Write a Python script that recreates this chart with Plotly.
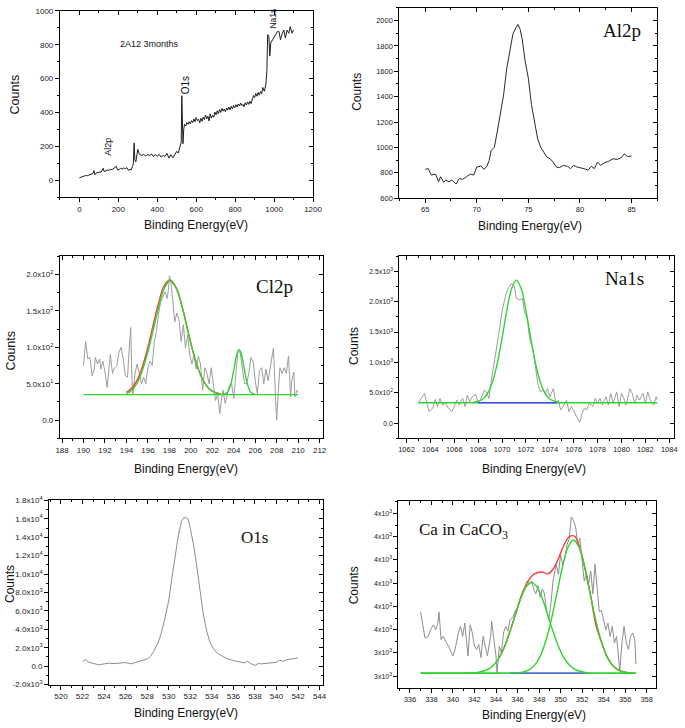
import plotly.graph_objects as go

# ---------------- DATA ----------------
# Survey spectrum (panel 1)
survey_x = [0, 8, 16, 24, 32, 40, 48, 56, 64, 70,
            75, 80, 88, 96, 104, 112, 118, 122, 128, 136,
            144, 152, 160, 168, 176, 184, 190, 196, 204, 212,
            220, 228, 236, 244, 252, 260, 266, 272, 277, 281,
            285, 290, 295, 300, 306, 312, 320, 330, 340, 350,
            360, 370, 380, 390, 400, 410, 420, 430, 440, 450,
            460, 470, 480, 490, 500, 508, 515, 520, 523, 526,
            529, 532, 536, 540, 546, 552, 558, 564, 570, 576,
            582, 588, 594, 600, 606, 612, 618, 624, 630, 636,
            642, 648, 654, 660, 666, 672, 678, 684, 690, 696,
            702, 708, 714, 720, 726, 732, 738, 744, 750, 756,
            762, 768, 774, 780, 786, 792, 798, 804, 810, 816,
            822, 828, 834, 840, 846, 852, 858, 864, 870, 876,
            882, 888, 894, 900, 906, 912, 918, 924, 930, 936,
            942, 950, 958, 963, 967, 973, 978, 983, 992, 1000,
            1008, 1017, 1025, 1033, 1042, 1050, 1058, 1067, 1075, 1083,
            1092, 1100]
survey_y = [14, 18, 22, 25, 27, 26, 30, 31, 34, 40,
            56, 32, 44, 46, 50, 48, 60, 70, 50, 56,
            60, 58, 64, 62, 68, 74, 82, 60, 62, 70,
            66, 72, 68, 74, 58, 64, 60, 80, 96, 220,
            120, 108, 150, 182, 160, 150, 146, 152, 144, 150,
            146, 154, 140, 150, 142, 152, 136, 146, 140, 158,
            130, 150, 132, 156, 170, 160, 190, 218, 225, 498,
            330, 215, 300, 330, 320, 340, 330, 346, 332, 352,
            340, 362, 345, 370, 352, 360, 338, 365, 348, 372,
            358, 385, 362, 378, 350, 392, 366, 384, 372, 402,
            386, 410, 392, 418, 400, 424, 408, 420, 404, 426,
            414, 432, 416, 436, 420, 442, 428, 446, 432, 450,
            438, 456, 440, 448, 434, 458, 444, 462, 448, 466,
            452, 472, 500, 488, 512, 496, 518, 502, 524, 510,
            548, 525, 568, 646, 860, 850, 733, 811, 830, 845,
            868, 878, 878, 830, 868, 887, 840, 887, 868, 907,
            868, 887]

# Al2p (panel 2)
al_x = [65.0, 65.3, 65.6, 66.0, 66.3, 66.5, 66.8, 67.0, 67.3, 67.6,
        67.9, 68.0, 68.3, 68.6, 69.0, 69.4, 69.7, 70.0, 70.4, 70.7,
        71.0, 71.2, 71.4, 71.7, 72.0, 72.3, 72.6, 72.9, 73.2, 73.5,
        73.8, 74.0, 74.2, 74.4, 74.7, 75.0, 75.3, 75.6, 75.9, 76.2,
        76.5, 76.8, 77.1, 77.4, 77.7, 78.0, 78.4, 78.8, 79.1, 79.4,
        79.7, 80.0, 80.4, 80.8, 81.1, 81.4, 81.7, 82.0, 82.4, 82.8,
        83.2, 83.6, 84.0, 84.3, 84.6, 85.0]
al_y = [827, 832, 781, 789, 729, 768, 724, 742, 729, 742,
        716, 711, 755, 747, 768, 789, 781, 845, 853, 827,
        853, 897, 975, 1000, 1129, 1258, 1414, 1620, 1750, 1893,
        1945, 1970, 1932, 1855, 1674, 1545, 1338, 1209, 1067, 1000,
        962, 923, 910, 884, 845, 840, 858, 850, 832, 858,
        845, 840, 832, 820, 850, 832, 884, 858, 879, 891,
        910, 905, 918, 949, 928, 931]

# Cl2p (panel 3)
cl_x = [190.0, 190.1, 190.2, 190.4, 190.6, 190.8, 191.0, 191.1, 191.3, 191.5,
        191.6, 191.8, 192.0, 192.2, 192.4, 192.5, 192.7, 192.9, 193.1, 193.3,
        193.5, 193.7, 193.9, 194.1, 194.3, 194.4, 194.5, 194.6, 194.8, 195.0,
        195.2, 195.4, 195.6, 195.8, 196.0, 196.2, 196.4, 196.6, 196.8, 197.0,
        197.2, 197.4, 197.6, 197.8, 197.9, 198.0, 198.1, 198.3, 198.5, 198.7,
        198.9, 199.1, 199.3, 199.5, 199.7, 199.9, 200.1, 200.3, 200.5, 200.7,
        200.9, 201.1, 201.3, 201.5, 201.7, 201.9, 202.1, 202.3, 202.5, 202.7,
        202.8, 203.0, 203.2, 203.4, 203.6, 203.8, 204.0, 204.2, 204.4, 204.6,
        204.8, 205.0, 205.2, 205.4, 205.6, 205.8, 206.0, 206.2, 206.4, 206.6,
        206.8, 207.0, 207.2, 207.4, 207.6, 207.7, 207.9, 208.0, 208.1, 208.3,
        208.5, 208.7, 208.9, 209.1, 209.3, 209.4, 209.6, 209.7, 209.9, 210.0]
cl_y = [75, 95, 108, 84, 86, 61, 70, 86, 77, 84,
        70, 81, 66, 45, 81, 90, 64, 72, 75, 93,
        100, 84, 61, 59, 108, 127, 59, 36, 64, 77,
        64, 50, 59, 50, 72, 81, 75, 108, 122, 147,
        163, 169, 176, 167, 178, 198, 194, 167, 135, 147,
        138, 108, 131, 99, 117, 90, 77, 90, 70, 88,
        77, 41, 72, 64, 50, 72, 45, 27, 36, 9,
        23, 41, 23, 36, 48, 50, 30, 64, 95, 93,
        72, 50, 50, 64, 86, 81, 54, 36, 68, 72,
        50, 70, 54, 72, 95, 99, 27, 0, 27, 72,
        64, 72, 64, 88, 32, 54, 66, 32, 41, 39]
cl_base_x = [190.0, 210.0]
cl_base_y = [35, 35]
cl_env_x = [194.0, 194.5, 195.0, 195.5, 196.0, 196.5, 197.0, 197.5, 198.0, 198.6,
            199.2, 199.7, 200.2, 200.7, 201.2, 201.7, 202.2, 202.8]
cl_env_y = [38, 44, 55, 74, 100, 131, 161, 184, 192, 182,
            155, 124, 94, 70, 53, 43, 38, 36]
cl_p1_x = [194.0, 194.5, 195.0, 195.5, 196.0, 196.5, 197.0, 197.5, 198.1, 198.7,
           199.2, 199.7, 200.2, 200.7, 201.2, 201.7, 202.2, 202.8]
cl_p1_y = [36.5, 41, 51, 69, 94, 124, 155, 180, 192, 180,
           155, 124, 94, 70, 53, 43, 38, 36]
cl_p2_x = [203.0, 203.4, 203.7, 204.0, 204.25, 204.5, 204.75, 205.0, 205.3, 205.6, 206.0]
cl_p2_y = [35.2, 38, 47.8, 68.5, 88, 97, 88, 68.5, 47.8, 38, 35.2]

# Na1s (panel 4)
na_x = [1063.0, 1063.3, 1063.5, 1063.7, 1063.9, 1064.2, 1064.4, 1064.6, 1064.8, 1065.0,
        1065.3, 1065.5, 1065.8, 1066.0, 1066.2, 1066.4, 1066.7, 1066.9, 1067.1, 1067.3,
        1067.5, 1067.8, 1068.0, 1068.2, 1068.5, 1068.7, 1068.9, 1069.1, 1069.3, 1069.5,
        1069.8, 1070.0, 1070.3, 1070.5, 1070.8, 1071.0, 1071.2, 1071.5, 1071.7, 1071.9,
        1072.1, 1072.3, 1072.6, 1072.8, 1073.0, 1073.2, 1073.4, 1073.6, 1073.8, 1074.0,
        1074.3, 1074.5, 1074.7, 1074.9, 1075.1, 1075.4, 1075.6, 1075.8, 1076.0, 1076.3,
        1076.5, 1076.7, 1076.9, 1077.1, 1077.3, 1077.6, 1077.8, 1078.0, 1078.2, 1078.4,
        1078.7, 1078.9, 1079.1, 1079.3, 1079.6, 1079.8, 1080.0, 1080.2, 1080.4, 1080.7,
        1080.9, 1081.1, 1081.3, 1081.5, 1081.8, 1082.0, 1082.2, 1082.4, 1082.7, 1082.9,
        1083.0]
na_y = [335, 433, 487, 325, 189, 244, 390, 271, 406, 298,
        325, 244, 189, 271, 379, 298, 406, 271, 460, 352,
        433, 476, 325, 390, 541, 514, 406, 703, 920, 1190,
        1569, 1840, 2110, 2219, 2300, 2273, 2056, 2029, 2056, 1813,
        1732, 1407, 1190, 920, 649, 514, 541, 487, 568, 433,
        568, 325, 379, 216, 271, 379, 189, 271, 189, 81,
        11, 162, 244, 216, 325, 271, 406, 325, 406, 298,
        433, 298, 487, 325, 514, 271, 487, 406, 298, 568,
        487, 325, 460, 379, 487, 325, 514, 379, 298, 433,
        379]
na_base_x = [1063.0, 1083.0]
na_base_y = [335, 335]
na_blue_x = [1068.0, 1074.6]
na_blue_y = [335, 335]
na_peak_x = [1067.6, 1068.4, 1068.9, 1069.2, 1069.6, 1070.0, 1070.4, 1070.8, 1071.2,
             1071.6, 1072.0, 1072.4, 1072.8, 1073.2, 1073.5, 1074.0, 1074.8]
na_peak_y = [341, 397, 528, 676, 982, 1400, 1856, 2216, 2355,
             2216, 1856, 1400, 982, 676, 528, 397, 341]

# O1s (panel 5)
o_x = [522.0, 522.3, 522.6, 523.0, 523.5, 524.0, 524.5, 525.0, 525.5, 526.0,
       526.5, 527.0, 527.5, 528.0, 528.3, 528.6, 529.0, 529.3, 529.6, 530.0,
       530.3, 530.6, 530.9, 531.2, 531.4, 531.6, 531.8, 532.0, 532.3, 532.6,
       532.9, 533.2, 533.5, 533.8, 534.1, 534.5, 535.0, 535.5, 536.0, 536.5,
       537.0, 537.3, 537.6, 538.0, 538.3, 538.6, 539.0, 539.5, 540.0, 540.3,
       540.6, 541.0, 541.5, 542.0]
o_y = [535, 713, 428, 285, 143, 250, 321, 285, 356, 392,
       250, 428, 535, 784, 1069, 1604, 2495, 3564, 4989, 7128,
       9622, 12117, 14255, 15788, 16144, 16108, 15966, 14968, 13186, 10870,
       8197, 5702, 3920, 2673, 1960, 1426, 1069, 784, 606, 463,
       356, 535, 285, 71, 285, 250, 285, 356, 428, 642,
       535, 713, 784, 891]

# Ca in CaCO3 (panel 6)
ca_x = [337.0, 337.2, 337.4, 337.7, 338.0, 338.2, 338.4, 338.6, 338.7, 338.9,
        339.1, 339.4, 339.6, 339.8, 340.0, 340.2, 340.5, 340.7, 340.9, 341.1,
        341.2, 341.4, 341.6, 341.8, 342.0, 342.2, 342.4, 342.6, 342.8, 343.0,
        343.2, 343.5, 343.6, 343.8, 344.0, 344.1, 344.3, 344.5, 344.7, 344.9,
        345.1, 345.3, 345.6, 345.8, 346.0, 346.2, 346.5, 346.7, 346.9, 347.1,
        347.3, 347.5, 347.7, 347.9, 348.1, 348.3, 348.5, 348.7, 348.9, 349.1,
        349.3, 349.6, 349.8, 350.0, 350.2, 350.4, 350.6, 350.8, 351.0, 351.2,
        351.4, 351.6, 351.8, 352.0, 352.2, 352.4, 352.6, 352.8, 353.0, 353.2,
        353.4, 353.6, 353.8, 354.0, 354.2, 354.4, 354.6, 354.8, 355.0, 355.2,
        355.4, 355.5, 355.7, 355.9, 356.1, 356.3, 356.5, 356.7, 356.9, 357.0]
ca_y = [3577, 3514, 3464, 3471, 3507, 3521, 3500, 3528, 3577, 3457,
        3471, 3443, 3429, 3408, 3387, 3415, 3486, 3514, 3471, 3528,
        3471, 3387, 3521, 3486, 3429, 3415, 3436, 3380, 3471, 3429,
        3387, 3471, 3535, 3457, 3387, 3310, 3429, 3401, 3486, 3514,
        3493, 3542, 3556, 3584, 3591, 3626, 3668, 3682, 3710, 3696,
        3710, 3675, 3654, 3689, 3640, 3675, 3654, 3584, 3542, 3612,
        3710, 3781, 3738, 3823, 3781, 3809, 3865, 3893, 3985, 3971,
        3942, 3865, 3893, 3795, 3710, 3738, 3696, 3753, 3654, 3781,
        3682, 3577, 3584, 3542, 3500, 3528, 3471, 3514, 3443, 3471,
        3373, 3324, 3443, 3514, 3443, 3415, 3471, 3486, 3457, 3352]
ca_base_x = [337.0, 357.0]
ca_base_y = [3313, 3313]
ca_blue_x = [345.3, 352.6]
ca_blue_y = [3313, 3313]
ca_env_x = [344.3, 344.8, 345.3, 345.8, 346.3, 346.8, 347.3, 347.8, 348.3, 348.8,
            349.3, 349.8, 350.3, 350.8, 351.3, 351.8, 352.3, 352.8, 353.3, 353.8,
            354.3, 354.8, 355.5, 356.5]
ca_env_y = [3380, 3428, 3493, 3565, 3637, 3693, 3730, 3745, 3748, 3740,
            3760, 3806, 3862, 3900, 3902, 3850, 3758, 3645, 3515, 3447,
            3385, 3348, 3324, 3314]
ca_p1_x = [337.0, 341.0, 342.3, 343.3, 343.8, 344.3, 344.8, 345.3, 345.8, 346.3,
           346.8, 347.3, 347.8, 348.3, 348.8, 349.3, 349.8, 350.3, 350.8, 351.3,
           352.3, 353.6, 357.0]
ca_p1_y = [3313, 3313, 3316, 3330, 3349, 3380, 3428, 3492, 3564, 3634,
           3684, 3703, 3684, 3634, 3564, 3492, 3428, 3380, 3349, 3330,
           3316, 3313, 3313]
ca_p2_x = [337.0, 345.2, 346.2, 346.7, 347.2, 347.7, 348.2, 348.7, 349.2, 349.7,
           350.2, 350.7, 351.2, 351.7, 352.2, 352.7, 353.2, 353.7, 354.2, 354.7,
           355.2, 355.7, 356.2, 357.0]
ca_p2_y = [3313, 3313, 3315, 3320, 3331, 3354, 3396, 3463, 3555, 3666,
           3775, 3856, 3886, 3856, 3775, 3666, 3555, 3463, 3396, 3354,
           3331, 3320, 3315, 3313]

# Tick labels
survey_ytick_vals = [0, 200, 400, 600, 800, 1000]
survey_ytick_text = ["0", "200", "400", "600", "800", "1000"]
al_ytick_vals = [600, 800, 1000, 1200, 1400, 1600, 1800, 2000]
al_ytick_text = ["600", "800", "1000", "1200", "1400", "1600", "1800", "2000"]
cl_ytick_vals = [0, 50, 100, 150, 200]
cl_ytick_text = ["0.0", "5.0x10<sup>1</sup>", "1.0x10<sup>2</sup>", "1.5x10<sup>2</sup>", "2.0x10<sup>2</sup>"]
na_ytick_vals = [0, 500, 1000, 1500, 2000, 2500]
na_ytick_text = ["0.0", "5.0x10<sup>2</sup>", "1.0x10<sup>3</sup>", "1.5x10<sup>3</sup>",
                 "2.0x10<sup>3</sup>", "2.5x10<sup>3</sup>"]
o_ytick_vals = [-2000, 0, 2000, 4000, 6000, 8000, 10000, 12000, 14000, 16000, 18000]
o_ytick_text = ["-2.0x10<sup>3</sup>", "0.0", "2.0x10<sup>3</sup>", "4.0x10<sup>3</sup>",
                "6.0x10<sup>3</sup>", "8.0x10<sup>3</sup>", "1.0x10<sup>4</sup>",
                "1.2x10<sup>4</sup>", "1.4x10<sup>4</sup>", "1.6x10<sup>4</sup>", "1.8x10<sup>4</sup>"]
ca_ytick_vals = [3300, 3400, 3500, 3600, 3700, 3800, 3900, 4000]
ca_ytick_text = ["3x10<sup>3</sup>", "3x10<sup>3</sup>", "4x10<sup>3</sup>", "4x10<sup>3</sup>",
                 "4x10<sup>3</sup>", "4x10<sup>3</sup>", "4x10<sup>3</sup>", "4x10<sup>3</sup>"]

# ---------------- FIGURE ----------------
W, H = 685, 728
SANS = "Liberation Sans, Arial, sans-serif"
SERIF = "Liberation Serif, Times New Roman, serif"
GREEN = "#2fd42f"
RED = "#ff3a3a"
BLUE = "#4c4cff"

fig = go.Figure()


def ref(i, k):
    return k if i == 1 else f"{k}{i}"


def line(panel, x, y, color, width=1.0, shape="linear"):
    fig.add_trace(go.Scatter(x=x, y=y, mode="lines",
                             line=dict(color=color, width=width, shape=shape),
                             xaxis=ref(panel, "x"), yaxis=ref(panel, "y"),
                             showlegend=False, hoverinfo="skip"))


line(1, survey_x, survey_y, "#1e1e1e", 1.0)
line(2, al_x, al_y, "#2a2a2a", 1.0)

line(3, cl_x, cl_y, "#9c9c9c", 1.0)
line(3, cl_base_x, cl_base_y, GREEN, 1.4)
line(3, cl_env_x, cl_env_y, RED, 1.4, "spline")
line(3, cl_p1_x, cl_p1_y, GREEN, 1.4, "spline")
line(3, cl_p2_x, cl_p2_y, GREEN, 1.4, "spline")

line(4, na_x, na_y, "#9c9c9c", 1.0)
line(4, na_base_x, na_base_y, GREEN, 1.4)
line(4, na_blue_x, na_blue_y, BLUE, 1.4)
line(4, na_peak_x, na_peak_y, GREEN, 1.4, "spline")

line(5, o_x, o_y, "#8c8c8c", 1.0)

line(6, ca_x, ca_y, "#8e8e8e", 1.0)
line(6, ca_base_x, ca_base_y, GREEN, 1.4)
line(6, ca_blue_x, ca_blue_y, BLUE, 1.4)
line(6, ca_env_x, ca_env_y, RED, 1.4, "spline")
line(6, ca_p1_x, ca_p1_y, GREEN, 1.4, "spline")
line(6, ca_p2_x, ca_p2_y, GREEN, 1.4, "spline")

panels = {
    1: dict(box=(57, 5, 315, 194), xr=[-100, 1200], yr=[-100, 1000], xdt=200, xmn=100,
            yv=survey_ytick_vals, yt=survey_ytick_text, ymn=100, fx=8, fy=8),
    2: dict(box=(403, 2, 666, 195), xr=[62.5, 87.5], yr=[600, 2100], xdt=5, xmn=2.5,
            yv=al_ytick_vals, yt=al_ytick_text, ymn=100, fx=7.5, fy=7.5),
    3: dict(box=(57, 254, 325, 439), xr=[187.8, 212.3], yr=[-25, 225], xdt=2, xmn=1,
            yv=cl_ytick_vals, yt=cl_ytick_text, ymn=25, fx=8, fy=8),
    4: dict(box=(403, 254, 683, 439), xr=[1061.4, 1084.4], yr=[-252, 2750], xdt=2, xmn=1,
            yv=na_ytick_vals, yt=na_ytick_text, ymn=250, fx=7.5, fy=7),
    5: dict(box=(46, 502, 325, 689), xr=[518.9, 544.3], yr=[-2000, 18000], xdt=2, xmn=1,
            yv=o_ytick_vals, yt=o_ytick_text, ymn=1000, fx=8, fy=8),
    6: dict(box=(402, 503, 665, 692), xr=[334.93, 358.9], yr=[3251, 4052], xdt=2, xmn=1,
            yv=ca_ytick_vals, yt=ca_ytick_text, ymn=50, fx=7.5, fy=7),
}

layout = {}
for i, p in panels.items():
    l, t, r, b = p["box"]
    xd = [l / W, r / W]
    yd = [1 - b / H, 1 - t / H]
    common = dict(showline=True, linecolor="black", linewidth=1, mirror=True,
                  showgrid=False, zeroline=False, ticks="outside", ticklen=4,
                  tickwidth=1, tickcolor="black", fixedrange=True)
    xa = dict(domain=xd, anchor=ref(i, "y"), range=p["xr"], tickmode="linear",
              tick0=0, dtick=p["xdt"],
              tickfont=dict(family=SANS, size=p["fx"], color="#222"),
              minor=dict(tickmode="linear", tick0=0, dtick=p["xmn"], ticks="outside",
                         ticklen=2, tickwidth=1, tickcolor="black", showgrid=False),
              **common)
    ya = dict(domain=yd, anchor=ref(i, "x"), range=p["yr"], tickmode="array",
              tickvals=p["yv"], ticktext=p["yt"],
              tickfont=dict(family=SANS, size=p["fy"], color="#222"),
              minor=dict(tickmode="linear", tick0=0, dtick=p["ymn"], ticks="outside",
                         ticklen=2, tickwidth=1, tickcolor="black", showgrid=False),
              **common)
    layout["xaxis" if i == 1 else f"xaxis{i}"] = xa
    layout["yaxis" if i == 1 else f"yaxis{i}"] = ya

    j = i + 6
    ov = dict(showline=False, showgrid=False, zeroline=False, showticklabels=False,
              ticks="inside", ticklen=4, tickwidth=1, tickcolor="black", fixedrange=True)
    layout[f"xaxis{j}"] = dict(overlaying=ref(i, "x"), anchor=f"y{j}", side="top",
                               range=p["xr"], tickmode="linear", tick0=0, dtick=p["xdt"],
                               minor=dict(tickmode="linear", tick0=0, dtick=p["xmn"],
                                          ticks="inside", ticklen=2, tickwidth=1,
                                          tickcolor="black", showgrid=False),
                               **ov)
    layout[f"yaxis{j}"] = dict(overlaying=ref(i, "y"), anchor=f"x{j}", side="right",
                               range=p["yr"], tickmode="array", tickvals=p["yv"],
                               minor=dict(tickmode="linear", tick0=0, dtick=p["ymn"],
                                          ticks="inside", ticklen=2, tickwidth=1,
                                          tickcolor="black", showgrid=False),
                               **ov)
    fig.add_trace(go.Scatter(x=[None], y=[None], mode="lines", xaxis=f"x{j}",
                             yaxis=f"y{j}", showlegend=False, hoverinfo="skip"))


def ann(text, px, py, size, family=SANS, angle=0, color="#111"):
    return dict(text=text, x=px / W, y=1 - py / H, xref="paper", yref="paper",
                xanchor="center", yanchor="middle", showarrow=False, textangle=angle,
                font=dict(family=family, size=size, color=color))


annots = [
    # axis titles
    ann("Counts", 11, 90, 12.5, angle=-90),
    ann("Binding Energy(eV)", 196, 222, 12),
    ann("Counts", 360, 87, 12, angle=-90),
    ann("Binding Energy(eV)", 536, 223, 12),
    ann("Counts", 7, 350, 12.5, angle=-90),
    ann("Binding Energy(eV)", 186, 470, 12),
    ann("Counts", 357, 345, 12, angle=-90),
    ann("Binding Energy(eV)", 540, 470, 12),
    ann("Counts", 6, 587, 12, angle=-90),
    ann("Binding Energy(eV)", 186, 718, 12),
    ann("Counts", 357, 588, 12, angle=-90),
    ann("Binding Energy(eV)", 540, 720, 12),
    # survey labels
    ann("2A12 3months", 148, 39, 9),
    ann("Al2p", 106, 143, 9, angle=-90),
    ann("O1s", 185, 80, 10, angle=-90),
    ann("Na1s", 274, 13, 8.5, angle=-90),
    # panel names
    ann("Al2p", 630, 25, 19, family=SERIF),
    ann("Cl2p", 276, 285, 19, family=SERIF),
    ann("Na1s", 633, 277, 19, family=SERIF),
    ann("O1s", 255, 540, 17, family=SERIF),
    ann("Ca in CaCO<sub>3</sub>", 468, 533, 17, family=SERIF),
]

fig.update_layout(width=W, height=H, margin=dict(l=0, r=0, t=0, b=0),
                  paper_bgcolor="white", plot_bgcolor="white", showlegend=False,
                  annotations=annots, **layout)

fig.write_html("out.html", config={"displayModeBar": False},
               post_script="document.body.style.margin='0';document.body.style.padding='0';document.documentElement.style.overflow='hidden';")
